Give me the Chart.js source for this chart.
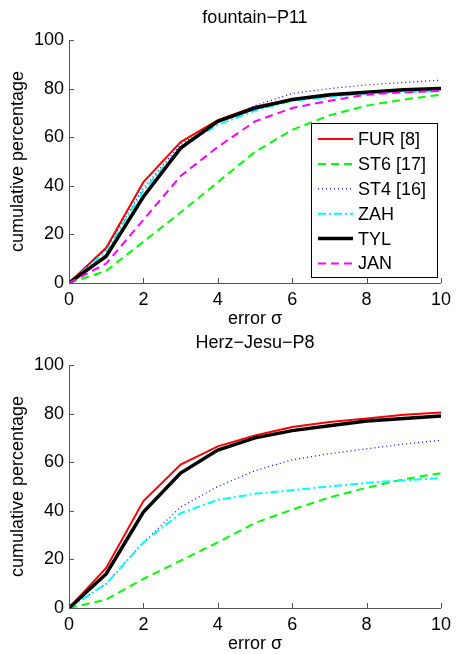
<!DOCTYPE html>
<html>
<head>
<meta charset="utf-8">
<script src="https://cdn.jsdelivr.net/npm/chart.js@4/dist/chart.umd.min.js"></script>
<style>
body { margin: 0; background: #fff; }
#wrap { position: relative; width: 457px; height: 654px; }
canvas { position: absolute; left: 0; }
</style>
</head>
<body>
<div id="wrap">
  <canvas id="chart1" width="457" height="335" style="top:0px"></canvas>
  <canvas id="chart2" width="457" height="335" style="top:325px"></canvas>
</div>
<script>
// error sigma on the x axis, cumulative percentage on y
let errorSteps = [0, 1, 2, 3, 4, 5, 6, 7, 8, 9, 10]
let xTicks = [0, 2, 4, 6, 8, 10]
let yTicks = [0, 20, 40, 60, 80, 100]

// fountain-P11
let fountainFUR = [0, 14.5, 41.5, 58, 67, 72.5, 75.5, 77, 78.5, 79.5, 80]
let fountainST6 = [0, 5, 17, 29, 41.5, 54, 63, 69, 73, 75.5, 77.5]
let fountainST4 = [0, 14, 39, 57, 66.5, 73, 78, 80, 81.5, 82.5, 83.5]
let fountainZAH = [0, 13, 38, 56, 65, 71, 75, 76.5, 78, 78.5, 79]
let fountainTYL = [0, 11, 35.5, 55.5, 66.5, 72, 75.5, 77.5, 78.5, 79.5, 80]
let fountainJAN = [0, 8, 26, 44, 56, 66.5, 72, 75, 77.5, 78.5, 79]

// Herz-Jesu-P8
let herzFUR = [0, 16.5, 44, 59, 66.5, 71, 74.5, 76.5, 78, 79.5, 80.5]
let herzST6 = [0, 3.5, 12, 19.5, 27, 35, 40.5, 45.5, 49.5, 53, 55.5]
let herzST4 = [0, 10, 27, 41.5, 50, 56.5, 61, 63.5, 65.5, 67.5, 69]
let herzZAH = [0, 10, 27, 39, 44.5, 47, 48.5, 50, 51.5, 52.5, 53.5]
let herzTYL = [0, 14, 39.5, 55.5, 65, 70, 73, 75, 77, 78, 79]

let axisGray = '#555555'
let fontFamily = '"Liberation Sans", Arial, sans-serif'

Chart.defaults.font.family = fontFamily
Chart.defaults.color = '#000'

// line styles per method (matlab look)
let styles = {
    'FUR [8]': { borderColor: '#ff0000', borderWidth: 2, borderDash: [] },
    'ST6 [17]': { borderColor: '#00ff00', borderWidth: 2, borderDash: [8, 5] },
    'ST4 [16]': { borderColor: '#0000ff', borderWidth: 1.2, borderDash: [1, 3] },
    'ZAH': { borderColor: '#00ffff', borderWidth: 2, borderDash: [8, 3, 2, 3] },
    'TYL': { borderColor: '#000000', borderWidth: 3.5, borderDash: [] },
    'JAN': { borderColor: '#ff00ff', borderWidth: 2, borderDash: [8, 5] }
}

function makeDataset(label, values, i, count) {
    let s = styles[label]
    return {
        label: label,
        data: errorSteps.map(function(x, k) { return { x: x, y: values[k] } }),
        borderColor: s.borderColor,
        borderWidth: s.borderWidth,
        borderDash: s.borderDash,
        pointRadius: 0,
        tension: 0,
        fill: false,
        order: count - i // later series drawn on top, like matlab
    }
}

// inward tick marks, matlab style
let innerTicks = {
    id: 'innerTicks',
    afterDraw: function(chart) {
        let ctx = chart.ctx
        let area = chart.chartArea
        let xs = chart.scales.x
        let ys = chart.scales.y
        ctx.save()
        ctx.strokeStyle = axisGray
        ctx.lineWidth = 1
        ctx.beginPath()
        xs.ticks.forEach(function(t) {
            let px = Math.round(xs.getPixelForValue(t.value)) + 0.5
            ctx.moveTo(px, area.bottom)
            ctx.lineTo(px, area.bottom - 5)
        })
        ys.ticks.forEach(function(t) {
            let py = Math.round(ys.getPixelForValue(t.value)) + 0.5
            ctx.moveTo(area.left, py)
            ctx.lineTo(area.left + 5, py)
        })
        ctx.stroke()
        ctx.restore()
    }
}

// boxed legend inside the plot, bottom right
let boxLegend = {
    id: 'boxLegend',
    afterDraw: function(chart) {
        if (!chart.options.plugins.boxLegend || !chart.options.plugins.boxLegend.show) return
        let ctx = chart.ctx
        let area = chart.chartArea
        let w = 126, h = 154
        let x = area.right - 4 - w
        let y = area.bottom - 6 - h
        ctx.save()
        ctx.fillStyle = '#fff'
        ctx.fillRect(x, y, w, h)
        ctx.strokeStyle = '#000'
        ctx.lineWidth = 1
        ctx.strokeRect(x + 0.5, y + 0.5, w, h)
        chart.data.datasets.forEach(function(ds, i) {
            let cy = y + 16 + i * 24.9
            ctx.strokeStyle = ds.borderColor
            ctx.lineWidth = ds.borderWidth
            ctx.setLineDash(ds.borderDash)
            ctx.beginPath()
            ctx.moveTo(x + 7, cy)
            ctx.lineTo(x + 42, cy)
            ctx.stroke()
            ctx.setLineDash([])
            ctx.fillStyle = '#000'
            ctx.font = '18px ' + fontFamily
            ctx.textBaseline = 'middle'
            ctx.fillText(ds.label, x + 47, cy + 1)
        })
        ctx.restore()
    }
}

function makeChart(canvasId, title, labels, series, showLegend) {
    let datasets = []
    labels.forEach(function(lab, i) {
        datasets.push(makeDataset(lab, series[i], i, labels.length))
    })
    return new Chart(document.getElementById(canvasId), {
        type: 'line',
        data: { datasets: datasets },
        plugins: [innerTicks, boxLegend],
        options: {
            responsive: false,
            animation: false,
            layout: { padding: { left: 0, right: 14, top: 0, bottom: 0 } },
            plugins: {
                legend: { display: false },
                tooltip: { enabled: false },
                boxLegend: { show: showLegend },
                title: {
                    display: true,
                    text: title,
                    fullSize: false,
                    font: { size: 18, weight: 'normal', lineHeight: 1.2 },
                    color: '#000',
                    padding: { top: 7, bottom: 11.4 }
                }
            },
            scales: {
                x: {
                    type: 'linear',
                    min: 0,
                    max: 10,
                    afterBuildTicks: function(s) { s.ticks = xTicks.map(function(v) { return { value: v } }) },
                    afterFit: function(s) { s.height = 52 },
                    grid: { display: false, drawTicks: false },
                    border: { display: true, color: axisGray, width: 1 },
                    ticks: { font: { size: 18 }, color: '#000', padding: 6, maxRotation: 0 },
                    title: { display: true, text: 'error σ', font: { size: 18 }, color: '#000', padding: { top: 0, bottom: 5 } }
                },
                y: {
                    min: 0,
                    max: 100,
                    afterBuildTicks: function(s) { s.ticks = yTicks.map(function(v) { return { value: v } }) },
                    afterFit: function(s) { s.width = 69 },
                    grid: { display: false, drawTicks: false },
                    border: { display: true, color: axisGray, width: 1 },
                    ticks: { font: { size: 18 }, color: '#000', padding: 5 },
                    title: { display: true, text: 'cumulative percentage', font: { size: 18 }, color: '#000', padding: { top: 7, bottom: 0 } }
                }
            }
        }
    })
}

makeChart('chart1', 'fountain\u2212P11',
    ['FUR [8]', 'ST6 [17]', 'ST4 [16]', 'ZAH', 'TYL', 'JAN'],
    [fountainFUR, fountainST6, fountainST4, fountainZAH, fountainTYL, fountainJAN], true)

makeChart('chart2', 'Herz\u2212Jesu\u2212P8',
    ['FUR [8]', 'ST6 [17]', 'ST4 [16]', 'ZAH', 'TYL'],
    [herzFUR, herzST6, herzST4, herzZAH, herzTYL], false)
</script>
</body>
</html>
